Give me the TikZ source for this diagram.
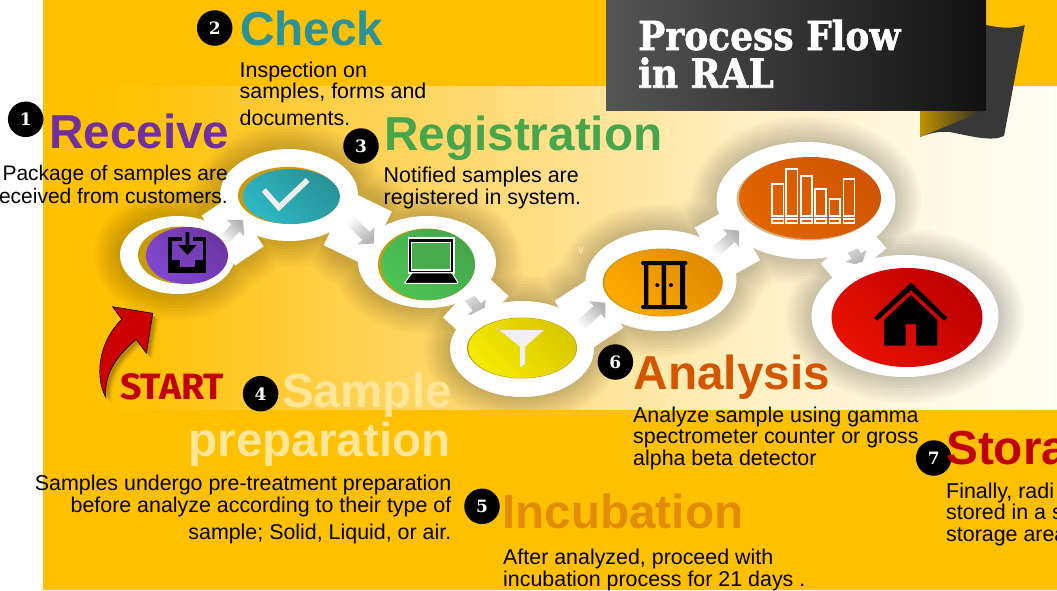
\documentclass[tikz,border=0pt]{standalone}
\usepackage{fontspec}
\usepackage{graphicx}
\setmainfont{Liberation Sans}
\newfontfamily\slab{DejaVu Serif}
\newfontfamily\slabheavy[BoldFeatures={FakeBold=1.6}]{DejaVu Serif}
\newfontfamily\chunk{Fira Sans}
\usetikzlibrary{shapes.geometric,calc}
\pgfdeclarelayer{back}
\pgfdeclarelayer{bandlayer}
\pgfsetlayers{back,bandlayer,main}
\definecolor{pagegold}{HTML}{FFC000}
\definecolor{bandA}{HTML}{FFC205}
\definecolor{bandB}{HTML}{FFD04A}
\definecolor{bandC}{HTML}{FFE08C}
\definecolor{bandD}{HTML}{FFF0C4}
\definecolor{bandE}{HTML}{FFFAE8}
\definecolor{bandF}{HTML}{FFFDF4}
\definecolor{arrowgray}{HTML}{B4B4B4}
\definecolor{recvc}{HTML}{7030A0}
\definecolor{checkc}{HTML}{2A9298}
\definecolor{regc}{HTML}{47A54B}
\definecolor{samplec}{HTML}{FFE699}
\definecolor{incc}{HTML}{E28C05}
\definecolor{anac}{HTML}{D45500}
\definecolor{storc}{HTML}{C00000}
\definecolor{goldedge}{HTML}{C89A10}
\definecolor{purA}{HTML}{6F35A5}\definecolor{purB}{HTML}{8048D0}\definecolor{purM}{HTML}{763EB9}
\definecolor{tealA}{HTML}{2A9298}\definecolor{tealB}{HTML}{2CB8C4}
\definecolor{grnA}{HTML}{46A64A}\definecolor{grnB}{HTML}{4CC455}\definecolor{grnM}{HTML}{48AC4E}
\definecolor{yelA}{HTML}{D8C800}\definecolor{yelB}{HTML}{F5EA00}
\definecolor{ambA}{HTML}{E08A00}\definecolor{ambB}{HTML}{FFAA00}
\definecolor{orgA}{HTML}{D05500}\definecolor{orgB}{HTML}{E26500}
\definecolor{redA}{HTML}{BE0000}\definecolor{redB}{HTML}{E81200}
\definecolor{tanedge}{HTML}{CDB98C}
\definecolor{tickc}{HTML}{EEEEEE}
\definecolor{funnelc}{HTML}{F0F0F0}
\definecolor{ribbonc}{HTML}{383838}
\definecolor{foldc}{HTML}{C09200}
\definecolor{bannerA}{HTML}{555555}
\definecolor{bannerB}{HTML}{111111}
\definecolor{arrowred}{HTML}{CC0000}
\definecolor{vmarkc}{HTML}{FFF0C0}
\pgfdeclarehorizontalshading{bandshade}{100bp}{color(0bp)=(pagegold);color(25bp)=(pagegold);color(29.8bp)=(bandA);color(39.6bp)=(bandB);color(50.5bp)=(bandC);color(59.8bp)=(bandD);color(69.7bp)=(bandE);color(75bp)=(bandF);color(100bp)=(bandF)}
\tikzset{
  ringnode/.style 2 args={shape=ellipse,inner sep=0,fill=white,minimum width=#1,minimum height=#2},
  plain/.style 2 args={shape=ellipse,inner sep=0,minimum width=#1,minimum height=#2},
  grad/.style 2 args={top color=#1,bottom color=#2,shading angle=-45},
  linkband/.style={white,line width=60pt},
  numdot/.style={circle,fill=black,inner sep=0,minimum size=35.5pt,text=white,font=\slab\bfseries\fontsize{17}{17}\selectfont},
  headtext/.style={inner sep=0,font=\bfseries\fontsize{47.7}{48}\selectfont},
  bodytext/.style={inner sep=0,align=left,text=black,font=\fontsize{21.4}{21.8}\selectfont},
  bodyright/.style={inner sep=0,align=right,text=black,font=\fontsize{21.4}{21.8}\selectfont},
}
\newcommand\flowarrow[4]{\begin{scope}[shift={#1},rotate=#2]
  \shade[top color=arrowgray,bottom color=white,shading angle=#4]
   (-#3,-5.5) -- ({#3-11},-5.5) -- ({#3-11},-12) -- (#3,0) -- ({#3-11},12) -- ({#3-11},5.5) -- (-#3,5.5) -- cycle;
 \end{scope}}
\newcommand\shadowlayer[1]{\fill[black,opacity=.022]
  (177.5,255) ellipse ({57.5+#1} and {39+#1})
  (289,195) ellipse ({69+#1} and {46+#1})
  (427,262) ellipse ({69+#1} and {46+#1})
  (522,349) ellipse ({72+#1} and {48+#1})
  (661,280.5) ellipse ({75.6+#1} and {50.5+#1})
  (806,200.5) ellipse ({89.4+#1} and {58.5+#1})
  (905,316) ellipse ({93.5+#1} and {61+#1})
  (231,228) circle ({34+#1})
  (358,228) circle ({34+#1})
  (476,307) circle ({32+#1})
  (590,315) circle ({34+#1})
  (727,244) circle ({34+#1})
  (854,256) circle ({32+#1});}
\begin{document}
\begin{tikzpicture}[x=1pt,y=-1pt]
\useasboundingbox (0,0) rectangle (1057,590);
\clip (0,0) rectangle (1057,590);
\begin{pgfonlayer}{back}
  \fill[white] (0,0) rectangle (1057,590);
  \fill[pagegold] (43,0) rectangle (1057,590);
  \shade[shading=bandshade] (43,86) rectangle (1057,409);
  \begin{scope}
    \clip (43,86) rectangle (1057,409);
    \foreach \k in {2,5,8,11,14,17,20,23,26}{\shadowlayer{\k}}
  \end{scope}
\end{pgfonlayer}

% rings
\node[ringnode={115pt}{78pt}] (n1) at (177.5,255) {};
\node[ringnode={138pt}{92pt}] (n2) at (289,195) {};
\node[ringnode={138pt}{92pt}] (n3) at (427,262) {};
\node[ringnode={144pt}{96pt}] (n4) at (522,349) {};
\node[ringnode={151pt}{101pt}] (n5) at (661,280.5) {};
\node[ringnode={179pt}{117pt}] (n6) at (806,200.5) {};
\node[ringnode={187pt}{122pt}] (n7) at (905,316) {};

% connectors
\begin{pgfonlayer}{bandlayer}
  \draw[linkband] ($(n1)!.339!(n2)+(3,6)$) -- ($(n1)!.609!(n2)+(1.6,3)$);
  \draw[linkband] ($(n2)!.346!(n3)$) -- ($(n2)!.65!(n3)$);
  \draw[linkband] ($(n3)!.382!(n4)$) -- ($(n3)!.646!(n4)$);
  \draw[linkband] ($(n4)!.349!(n5)+(.5,1)$) -- ($(n4)!.624!(n5)+(-1.7,-3.6)$);
  \draw[linkband] ($(n5)!.333!(n6)$) -- ($(n5)!.583!(n6)$);
  \draw[linkband] ($(n6)!.378!(n7)$) -- ($(n6)!.582!(n7)$);
  \flowarrow{($(n3)!.5!(n4)+(-3.5,-5.5)$)}{-50}{20}{-140}
  \flowarrow{($(n6)!.5!(n7)+(-4,-10)$)}{-60}{20}{-150}
\end{pgfonlayer}
\flowarrow{($(n1)!.5!(n2)+(-.5,6)$)}{47}{15}{-43}
\flowarrow{($(n2)!.5!(n3)+(3,2.5)$)}{-44}{18}{-134}
\flowarrow{($(n4)!.5!(n5)+(.5,0)$)}{42}{18}{-48}
\flowarrow{($(n5)!.5!(n6)+(-7,1.5)$)}{42}{17}{-48}

% inner discs
\node[plain={84pt}{57pt},fill=goldedge] (g1) at (180,255) {};
\node[plain={82pt}{57pt},grad={purA}{purB}] (i1) at (187,255.5) {};
\node[plain={100pt}{57pt},fill=goldedge] (g2) at (288,195.4) {};
\node[plain={97pt}{55pt},grad={tealA}{tealB}] (i2) at (291.4,196.5) {};
\node[plain={97pt}{72pt},fill=goldedge] (g3) at (426.5,264.5) {};
\node[plain={94pt}{71pt},grad={grnA}{grnB}] (i3) at (428,264.5) {};
\node[plain={110pt}{61pt},fill=goldedge] (g4) at (522,348) {};
\node[plain={108pt}{60pt},grad={yelA}{yelB}] (i4) at (522.3,348) {};
\node[plain={120pt}{68pt},fill=goldedge] (g5) at (662.6,282.5) {};
\node[plain={118pt}{67pt},grad={ambA}{ambB}] (i5) at (663.6,282.5) {};
\node[plain={144pt}{83pt},fill=tanedge] (g6) at (808.5,199) {};
\node[plain={142pt}{82pt},grad={orgA}{orgB}] (i6) at (810,198) {};
\node[plain={151pt}{99pt},grad={redA}{redB}] (i7) at (907,317.5) {};

% icon 1: tray
\fill[black] (168,237) rectangle (206,272.7);
\fill[purM] (171.5,240.5) rectangle (202.5,260);
\fill[purM] (182,236) rectangle (193,241);
\fill[purM] (180,259) rectangle (195,266.7);
\fill[black] (185.7,232) -- (189.3,232) -- (189.3,245) -- (196.7,245) -- (187.5,255) -- (178.3,245) -- (185.7,245) -- cycle;
% icon 2: tick
\draw[line width=5.5pt,tickc] (263.7,190) -- (279,207.3) -- (307.6,180);
% icon 3: laptop
\fill[white] (407.7,236.7) rectangle (454.5,273.5);
\fill[black] (409,238.7) rectangle (453.2,272);
\fill[white] (411,241.7) rectangle (451,270.7);
\fill[grnM] (412.3,243.3) rectangle (450,269.3);
\filldraw[fill=black,draw=white,line width=1pt,rounded corners=1pt] (412,272.8) -- (452,272.8) -- (458.3,283.3) -- (404.3,283.3) -- cycle;
% icon 4: funnel
\fill[funnelc] (499.3,330) -- (544,330) -- (525,346.7) -- (525,364) -- (520,367.3) -- (520,346.7) -- cycle;
% icon 5: wardrobe
\fill[black,rounded corners=1.5pt] (641,261) rectangle (687.3,265);
\fill[black,rounded corners=1.5pt] (641,305) rectangle (687.3,309);
\fill[black] (644,264) rectangle (648.3,306) (661.7,264) rectangle (666,306) (680,264) rectangle (685,306);
\fill[black] (657.3,285) circle (2) (671,285) circle (2);
% icon 6: bars
\begin{scope}[white,line width=1.6pt]
  \draw (771.7,184) rectangle (783.3,216);
  \draw (786,169) rectangle (797.3,216);
  \draw (800.7,176) rectangle (811.7,216);
  \draw (815,189) rectangle (825.7,216);
  \draw (829.3,198.7) rectangle (840,216);
  \draw (843.3,179) rectangle (854.3,216);
  \draw (771.7,219) rectangle (783.3,222.7);
  \draw (786,219) rectangle (797.3,222.7);
  \draw (800.7,219) rectangle (811.7,222.7);
  \draw (815,219) rectangle (825.7,222.7);
  \draw (829.3,219) rectangle (840,222.7);
  \draw (843.3,219) rectangle (854.3,222.7);
\end{scope}
% icon 7: house
\fill[black] (911,282.3) -- (947.3,317.7) -- (944,320.7) -- (911,290) -- (877.3,320.7) -- (874,317.7) -- cycle;
\fill[black] (911,295) -- (937.3,320) -- (937.3,345.7) -- (916,345.7) -- (916,324) -- (905.7,324) -- (905.7,345.7) -- (884,345.7) -- (884,320) -- cycle;

% banner
\fill[ribbonc] (986,25) .. controls (996,27) and (1010,30) .. (1024.8,25) -- (1004,136) .. controls (992,142) and (970,136) .. (950,132) .. controls (940,131) and (930,133) .. (920,137) -- (920,110) -- cycle;
\shade[left color=foldc,right color=black!85] (920,110) -- (986,110) -- (920,137) -- cycle;
\shade[left color=bannerA,right color=bannerB] (606,0) rectangle (986,110);
\node[inner sep=0,anchor=base west,text=white,font=\slabheavy\bfseries\fontsize{40}{37.7}\selectfont,align=left] (title) at (638,87.7) {\scalebox{0.9}[1]{Process Flow}\\\scalebox{0.9}[1]{in RAL}};

% START arrow
\foreach \s/\o in {6/.06,4.5/.1,3/.14}{
 \fill[black,opacity=\o,shift={(\s,\s)}] (112.6,306.7) -- (152.8,313.3) -- (146.4,353.3) -- (136.2,339.3) .. controls (118,355) and (104,372) .. (105.8,397.3) .. controls (96,380) and (96,345) .. (121.7,319.3) -- cycle;}
\filldraw[draw=black,line width=.6pt,fill=arrowred] (112.6,306.7) -- (152.8,313.3) -- (146.4,353.3) -- (136.2,339.3) .. controls (118,355) and (104,372) .. (105.8,397.3) .. controls (96,380) and (96,345) .. (121.7,319.3) -- cycle;
\node[inner sep=0,anchor=base west,text=storc,font=\chunk\bfseries\fontsize{36}{36}\selectfont] (start) at (120,399.5) {\resizebox{104pt}{26pt}{START}};

% number dots
\node[numdot] (d1) at (25.7,119.3) {1};
\node[numdot] (d2) at (214.7,28) {2};
\node[numdot] (d3) at (361,146) {3};
\node[numdot] (d4) at (260.6,393.7) {4};
\node[numdot] (d5) at (482,506.3) {5};
\node[numdot] (d6) at (615.4,362) {6};
\node[numdot] (d7) at (933.7,458) {7};

% headings
\node[headtext,anchor=base west,text=recvc] (h1) at (49,148.5) {Receive};
\node[headtext,anchor=base west,text=checkc] (h2) at (240,45) {Check};
\node[headtext,anchor=base west,text=regc] (h3) at (384,150) {Registration};
\node[headtext,anchor=base east,text=samplec] (h4a) at (452,407) {Sample};
\node[headtext,anchor=base east,text=samplec] (h4b) at (451,456) {preparation};
\node[headtext,anchor=base west,text=incc] (h5) at (502,528.5) {Incubation};
\node[headtext,anchor=base west,text=anac] (h6) at (633.5,389.5) {Analysis};
\node[headtext,anchor=base west,text=storc] (h7) at (946,464.5) {Stora};

% body texts
\node[bodyright,anchor=base east,font=\fontsize{21}{23.3}\selectfont] (t1) at (228,203.3) {Package of samples are\\received from customers.};
\node[bodytext,anchor=base west] (t2) at (239.5,125.7) {Inspection on\\samples, forms and\\[5pt]documents.};
\node[bodytext,anchor=base west] (t3) at (383.5,204.3) {Notified samples are\\registered in system.};
\node[bodyright,anchor=base east] (t4) at (451.5,539) {Samples undergo pre-treatment preparation\\before analyze according to their type of\\[5pt]sample; Solid, Liquid, or air.};
\node[bodytext,anchor=base west] (t5) at (503,586) {After analyzed, proceed with\\incubation process for 21 days .};
\node[bodytext,anchor=base west] (t6) at (633,465.7) {Analyze sample using gamma\\spectrometer counter or gross\\alpha beta detector};
\node[bodytext,anchor=base west] (t7) at (946,541.7) {Finally, radi\\stored in a s\\storage area};
\node[inner sep=0,anchor=base,text=vmarkc,font=\fontsize{11}{11}\selectfont] (vmark) at (581,253) {v};
\end{tikzpicture}
\end{document}
